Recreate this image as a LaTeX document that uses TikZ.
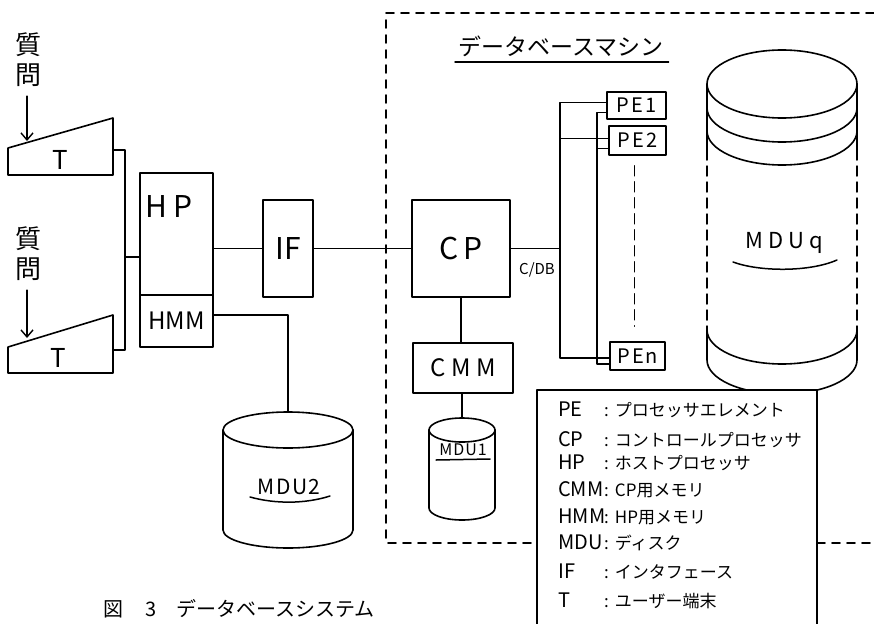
\documentclass[tikz,border=0pt]{standalone}
\usepackage{fontspec}
\newfontfamily\jp{Noto Sans CJK JP}
\usetikzlibrary{calc,arrows.meta}
\newcommand\fsz[2]{\fontsize{#1pt}{#2pt}\selectfont}

\begin{document}
\begin{tikzpicture}[x=1pt, y=-1pt, line cap=round, line join=round,
  every node/.style={font=\jp, inner sep=0pt},
  blk/.style={draw, line width=1.6pt},
  wire/.style={line width=1.5pt},
  frame/.style={line width=1.6pt, dash pattern=on 8pt off 7pt},
  pedash/.style={line width=1.5pt, dash pattern=on 10pt off 6pt},
  arr/.style={line width=1.4pt, -{Straight Barb[length=7pt, width=12pt]}}]
  \useasboundingbox (0,0) rectangle (874,623);
  \clip (0,0) rectangle (874,623);

  % database machine frame
  \draw[frame] (874,13) -- (386,13) -- (386,543) -- (537,543);
  \draw[frame] (817,543) -- (874,543);
  \node[anchor=base west, font=\jp\fsz{23}{23}] (title) at (458,56) {データベースマシン};
  \draw[wire] ($(title.base west)+(-3,6)$) -- ($(title.base east)+(5,6)$);

  % terminals
  \draw[blk] (8,148) -- (113,118) -- (113,175) -- (8,175) -- cycle;
  \draw[blk] (8,347) -- (113,315) -- (113,373) -- (8,373) -- cycle;
  \node[font=\jp\fsz{26}{26}] (T1) at (60,160) {T};
  \node[font=\jp\fsz{26}{26}] (T2) at (58,358) {T};

  % questions
  \node[align=center, font=\jp\fsz{26}{30}] (q1) at (28,60) {質\\問};
  \node[align=center, font=\jp\fsz{26}{30}] (q2) at (28,254) {質\\問};
  \coordinate (t1top) at (27,141);
  \coordinate (t2top) at (27,338);
  \draw[arr] ($(q1.south)+(-1,9)$) -- (t1top);
  \draw[arr] ($(q2.south)+(-1,9)$) -- (t2top);

  % host side
  \coordinate (bus) at (125,0);
  \coordinate (t1o) at (113,150);
  \coordinate (t2o) at (113,350);
  \draw[wire] (t1o) -- (t1o -| bus) -- (t2o -| bus) -- (t2o);
  \node[blk, minimum width=73pt, minimum height=122pt] (HP) at (176.5,234) {};
  \node[font=\jp\fsz{30}{30}] (HPtxt) at (169,207) {H\hspace{6pt}P};
  \node[blk, minimum width=73pt, minimum height=52pt, font=\jp\fsz{24}{24}] (HMM) at (176.5,321) {HMM};
  \coordinate (hpin) at (140,257);
  \draw[wire] (hpin -| bus) -- (hpin);

  \node[blk, minimum width=50pt, minimum height=97pt, font=\jp\fsz{30}{30}] (IF) at (288,248.5) {IF};
  \node[blk, minimum width=98pt, minimum height=97pt, font=\jp\fsz{30}{30}] (CP) at (461,248.5) {C\hspace{4pt}P};
  \draw[wire] (HP.east |- IF.west) -- (IF.west);
  \draw[wire] (IF.east) -- (CP.west);

  \node[blk, minimum width=100pt, minimum height=50pt, font=\jp\fsz{24}{24}] (CMM) at (463,368) {C M M};
  \draw[wire] (CP.south) -- (CP.south |- CMM.north);

  % MDU1
  \coordinate (m1) at (462,430);
  \coordinate (m1top) at (462,418);
  \draw[blk] (m1) ellipse [x radius=33pt, y radius=12pt];
  \draw[blk] ($(m1)+(-33,0)$) -- ++(0,78) arc[start angle=180, end angle=360, x radius=33pt, y radius=12pt] -- ++(0,-78);
  \draw[wire] (CMM.south -| m1top) -- (m1top);
  \node[font=\jp\fsz{16}{16}] (MDU1) at (463,450) {M\hspace{1pt}D\hspace{1pt}U\hspace{1pt}1};
  \draw[wire] (436,460) -- (490,459);

  % MDU2
  \coordinate (m2) at (288,430);
  \coordinate (m2top) at (288,412);
  \draw[blk] (m2) ellipse [x radius=65pt, y radius=18pt];
  \draw[blk] ($(m2)+(-65,0)$) -- ++(0,100) arc[start angle=180, end angle=360, x radius=65pt, y radius=18pt] -- ++(0,-100);
  \draw[wire] ($(HMM.east)+(0,-6)$) -| (m2top);
  \node[font=\jp\fsz{21}{21}] (MDU2) at (289,487) {M\hspace{2pt}D\hspace{2pt}U\hspace{1pt}2};
  \draw[wire] (250,497) .. controls (275,504) and (305,504) .. (330,496);

  % processor elements
  \node[blk, minimum width=59pt, minimum height=27pt, font=\jp\fsz{20}{20}] (PE1) at (636.5,105.5) {P\hspace{3pt}E\hspace{2pt}1};
  \node[blk, minimum width=57pt, minimum height=29pt, font=\jp\fsz{20}{20}] (PE2) at (637.5,140.5) {P\hspace{3pt}E\hspace{2pt}2};
  \node[blk, minimum width=55pt, minimum height=28pt, font=\jp\fsz{20}{20}] (PEn) at (637.5,356) {P\hspace{2pt}E\hspace{1pt}n};
  \coordinate (outer) at (560,0);
  \coordinate (inner) at (597,0);
  \coordinate (cdb) at (CP.east -| outer);
  \draw[wire] (CP.east) -- (cdb);
  \draw[wire] ($(PE1.west)+(0,-3)$) -| ($(PEn.west -| outer)+(0,2)$) -- ($(PEn.west)+(0,2)$);
  \draw[wire] ($(PE2.west)+(0,-2)$) -- ($(PE2.west -| outer)+(0,-2)$);
  \draw[wire] ($(PE1.west)+(0,7)$) -| ($(PEn.west -| inner)+(0,8)$) -- ($(PEn.west)+(0,8)$);
  \draw[wire] ($(PE2.west)+(0,8)$) -- ($(PE2.west -| inner)+(0,8)$);
  \draw[pedash] ($(PE2.south)+(-3,10)$) -- ($(PEn.north)+(-3,-15)$);
  \node[font=\jp\fsz{15}{15}] (CDB) at (537,270) {C/DB};

  % MDUq
  \coordinate (mq) at (782,84);
  \draw[blk] (mq) ellipse [x radius=75pt, y radius=34pt];
  \draw[blk] ($(mq)+(-75,24)$) arc[start angle=180, end angle=360, x radius=75pt, y radius=34pt];
  \draw[blk] ($(mq)+(-75,47)$) arc[start angle=180, end angle=360, x radius=75pt, y radius=34pt];
  \draw[blk] ($(mq)+(-75,0)$) -- ++(0,66);
  \draw[blk] ($(mq)+(75,0)$) -- ++(0,66);
  \draw[pedash] ($(mq)+(-75,66)$) -- ++(0,180);
  \draw[pedash] ($(mq)+(75,66)$) -- ++(0,180);
  \draw[blk] ($(mq)+(-75,246)$) arc[start angle=180, end angle=360, x radius=75pt, y radius=34pt];
  \draw[blk] ($(mq)+(-75,246)$) -- ++(0,30) arc[start angle=180, end angle=360, x radius=75pt, y radius=34pt] -- ++(0,-30);
  \node[font=\jp\fsz{22}{22}] (MDUq) at (784,243) {M\hspace{5pt}D\hspace{5pt}U\hspace{5pt}q};
  \draw[wire] (733,262) .. controls (760,272) and (810,272) .. (837,260);

  % legend
  \draw[blk, fill=white] (537,390) rectangle (817,650);
  \foreach \y/\k/\v in {410/PE/プロセッサエレメント, 440/CP/コントロールプロセッサ,
      463/HP/ホストプロセッサ, 490/CMM/CP用メモリ, 517/HMM/HP用メモリ,
      543/MDU/ディスク, 572/IF/インタフェース, 601/T/ユーザー端末}
    \node[anchor=west, font=\jp\fsz{17}{17}] (lg\k) at (558,\y) {\makebox[46pt][l]{\fsz{20}{20}\k}:\hspace{6pt}\v};

  % caption
  \node[anchor=base west, font=\jp\fsz{20}{20}] (cap) at (103,616) {図\hspace{22pt}3\hspace{20pt}データベースシステム};
\end{tikzpicture}
\end{document}
